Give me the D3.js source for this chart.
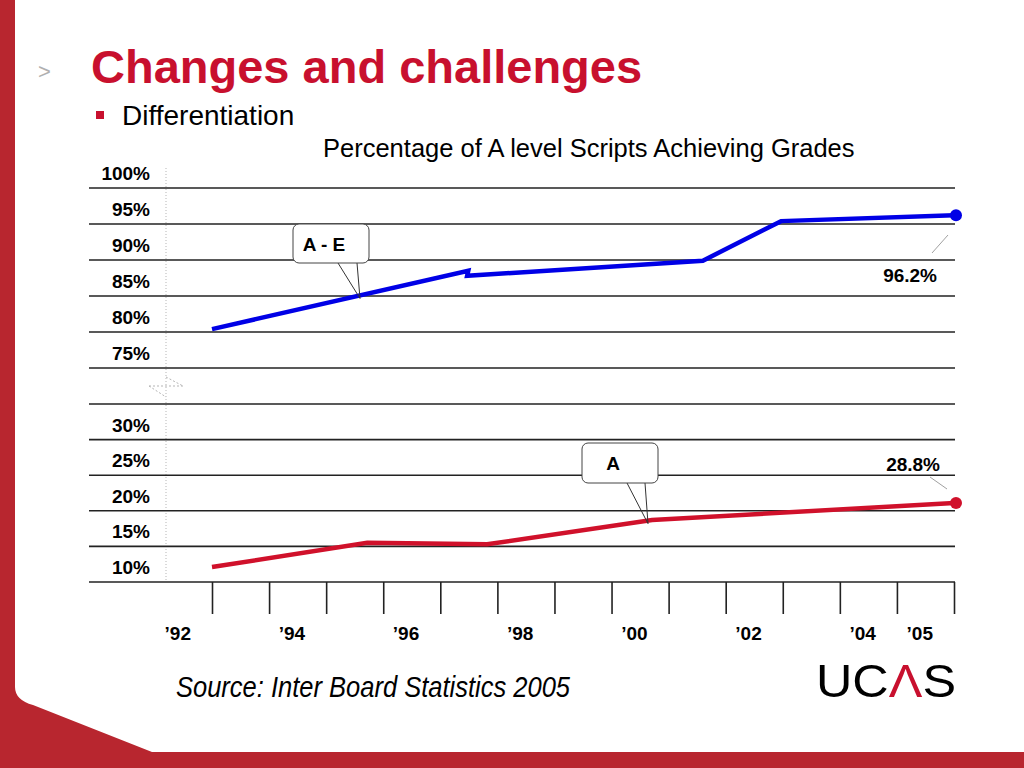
<!DOCTYPE html>
<html>
<head>
<meta charset="utf-8">
<script src="https://cdn.jsdelivr.net/npm/d3@7"></script>
<style>
    html, body { margin: 0; padding: 0; background: #fff; }
    svg { display: block; font-family: "Liberation Sans", Arial, sans-serif; }
</style>
</head>
<body>
<svg id="slide" width="1024" height="768"></svg>
<script>
// data
const years = [1992, 1993, 1994, 1995, 1996, 1997, 1998, 1999, 2000, 2001, 2002, 2003, 2004, 2005];
const labelYears = [1992, 1994, 1996, 1998, 2000, 2002, 2004, 2005];
const yearLabels = ['\u201992', '\u201994', '\u201996', '\u201998', '\u201900', '\u201902', '\u201904', '\u201905'];

const upperTicks = [100, 95, 90, 85, 80, 75];
const lowerTicks = [35, 30, 25, 20, 15, 10];
const lowerLabels = [30, 25, 20, 15, 10];

// A - E pass rate (hand drawn line, vertices at fractional years)
const aeYears = [1992, 1996.49, 1996.47, 2000.6, 2001.97, 2005];
const aeValues = [80.4, 88.5, 87.8, 89.9, 95.4, 96.2];

// grade A
const aYears = [1992, 1994.72, 1996.82, 1999.71, 2005];
const aValues = [12.1, 15.5, 15.3, 18.7, 21.1];

const endLabels = ['96.2%', '28.8%'];

const RED = '#c8102e';
const FRAME = '#b8262f';

const svg = d3.select('#slide');

// slide frame
svg.append('path')
    .attr('fill', FRAME)
    .attr('d', 'M0,0 H15 V687 Q15,700 33,705 L152,752 H1024 V768 H0 Z');

svg.append('text')
    .attr('x', 38).attr('y', 79)
    .attr('font-size', 22)
    .attr('fill', '#b0b0b0')
    .text('>');

svg.append('text')
    .attr('x', 91).attr('y', 83)
    .attr('font-size', 47)
    .attr('font-weight', 'bold')
    .attr('fill', RED)
    .text('Changes and challenges');

svg.append('rect')
    .attr('x', 96).attr('y', 111)
    .attr('width', 8).attr('height', 8)
    .attr('fill', RED);

svg.append('text')
    .attr('x', 122).attr('y', 125)
    .attr('font-size', 28)
    .text('Differentiation');

svg.append('text')
    .attr('x', 323).attr('y', 157)
    .attr('font-size', 25.5)
    .text('Percentage of A level Scripts Achieving Grades');

// scales
const x = d3.scaleLinear().domain([1992, 2005]).range([212, 954]);
const yTop = d3.scaleLinear().domain([75, 100]).range([368, 188]);
const yBot = d3.scaleLinear().domain([10, 35]).range([582, 404]);
const step = x(1993) - x(1992);

const gridLeft = 89, gridRight = 955;

// dotted y axis and break mark
svg.append('line')
    .attr('x1', 166).attr('x2', 166)
    .attr('y1', 168).attr('y2', yBot(10))
    .attr('stroke', '#b5b5b5')
    .attr('stroke-dasharray', '1,2');

const mid = (yTop(75) + yBot(35)) / 2;
svg.append('path')
    .attr('fill', 'none')
    .attr('stroke', '#b5b5b5')
    .attr('stroke-dasharray', '2,2')
    .attr('d', `M166,${mid - 9} L183,${mid} M149,${mid} H183 M149,${mid} L166,${mid + 11}`);

// gridlines
const grid = svg.append('g')
    .attr('stroke', '#222')
    .attr('stroke-width', 1.6);

grid.selectAll('line.top')
    .data(upperTicks)
    .join('line')
        .attr('class', 'top')
        .attr('x1', gridLeft).attr('x2', gridRight)
        .attr('y1', d => yTop(d)).attr('y2', d => yTop(d));

grid.selectAll('line.bot')
    .data(lowerTicks)
    .join('line')
        .attr('class', 'bot')
        .attr('x1', gridLeft).attr('x2', gridRight)
        .attr('y1', d => yBot(d)).attr('y2', d => yBot(d));

// y labels sit just above their gridline
const yLabels = svg.append('g')
    .attr('font-size', 19)
    .attr('font-weight', 'bold')
    .attr('text-anchor', 'end');

yLabels.selectAll('text.top')
    .data(upperTicks)
    .join('text')
        .attr('class', 'top')
        .attr('x', 150)
        .attr('y', d => yTop(d) - 8)
        .text(d => d + '%');

yLabels.selectAll('text.bot')
    .data(lowerLabels)
    .join('text')
        .attr('class', 'bot')
        .attr('x', 150)
        .attr('y', d => yBot(d) - 8)
        .text(d => d + '%');

// x axis ticks
const xAxis = svg.append('g')
    .attr('transform', `translate(0,${yBot(10)})`)
    .call(d3.axisBottom(x).tickValues(years).tickSize(32).tickFormat(''));
xAxis.select('.domain').remove();
xAxis.selectAll('.tick line')
    .attr('stroke', '#222')
    .attr('stroke-width', 1.6);

svg.append('g')
        .attr('font-size', 19)
        .attr('font-weight', 'bold')
        .attr('text-anchor', 'middle')
    .selectAll('text')
    .data(labelYears)
    .join('text')
        .attr('x', d => x(d) - step * 0.6)
        .attr('y', 640)
        .text((d, i) => yearLabels[i]);

// series
const series = [
    { years: aeYears, values: aeValues, y: yTop, color: '#0000e6', label: endLabels[0] },
    { years: aYears, values: aValues, y: yBot, color: '#d0112b', label: endLabels[1] }
];

series.forEach(s => {
    const pts = s.years.map((yr, i) => [x(yr), s.y(s.values[i])]);
    s.points = pts;

    svg.append('path')
        .attr('fill', 'none')
        .attr('stroke', s.color)
        .attr('stroke-width', 4.5)
        .attr('stroke-linejoin', 'miter')
        .attr('d', d3.line()(pts));

    const last = pts[pts.length - 1];
    svg.append('circle')
        .attr('cx', last[0] + 2)
        .attr('cy', last[1])
        .attr('r', 6)
        .attr('fill', s.color);
});

function yOnLine(pts, px) {
    for (let i = 1; i < pts.length; i++) {
        const [x0, y0] = pts[i - 1], [x1, y1] = pts[i];
        if (px >= Math.min(x0, x1) && px <= Math.max(x0, x1) && x1 !== x0) {
            return y0 + (y1 - y0) * (px - x0) / (x1 - x0);
        }
    }
    return pts[pts.length - 1][1];
}

// callouts
const callouts = [
    { s: series[0], text: 'A - E', box: [293, 224, 76, 39], base: [338, 357], tipYear: x.invert(360) },
    { s: series[1], text: 'A', box: [582, 443, 76, 40], base: [627, 645], tipYear: x.invert(648) }
];

callouts.forEach(c => {
    const [bx, by, bw, bh] = c.box;
    const tx = x(c.tipYear);
    const ty = yOnLine(c.s.points, tx) + 3;
    const g = svg.append('g');

    g.append('path')
        .attr('fill', 'none')
        .attr('stroke', '#333')
        .attr('stroke-width', 1)
        .attr('d', `M${c.base[0]},${by + bh} L${tx},${ty} M${c.base[1]},${by + bh} L${tx},${ty}`);

    g.append('rect')
        .attr('x', bx).attr('y', by)
        .attr('width', bw).attr('height', bh)
        .attr('rx', 6)
        .attr('fill', '#fff')
        .attr('stroke', '#444')
        .attr('stroke-width', 1);

    g.append('text')
        .attr('x', bx + bw / 2 - 7)
        .attr('y', by + bh / 2 + 7)
        .attr('text-anchor', 'middle')
        .attr('font-size', 19)
        .attr('font-weight', 'bold')
        .text(c.text);
});

// end value labels with leaders
const endLab = [
    { s: series[0], tx: 937, ty: 282, leader: [[932, 253], [948, 235]] },
    { s: series[1], tx: 940, ty: 471, leader: [[930, 477], [947, 489]] }
];

endLab.forEach(e => {
    svg.append('path')
        .attr('fill', 'none')
        .attr('stroke', '#888')
        .attr('stroke-width', 0.8)
        .attr('d', d3.line()(e.leader));

    svg.append('text')
        .attr('x', e.tx).attr('y', e.ty)
        .attr('text-anchor', 'end')
        .attr('font-size', 19)
        .attr('font-weight', 'bold')
        .text(e.s.label);
});

// footer
svg.append('text')
    .attr('x', 176).attr('y', 697)
    .attr('font-size', 29)
    .attr('font-style', 'italic')
    .attr('textLength', 394)
    .attr('lengthAdjust', 'spacingAndGlyphs')
    .text('Source: Inter Board Statistics 2005');

const logo = svg.append('text')
    .attr('x', 816).attr('y', 697)
    .attr('font-size', 46)
    .attr('textLength', 140)
    .attr('lengthAdjust', 'spacingAndGlyphs');
logo.append('tspan').text('UC');
logo.append('tspan').attr('fill', RED).text('\u039B');
logo.append('tspan').text('S');
</script>
</body>
</html>
